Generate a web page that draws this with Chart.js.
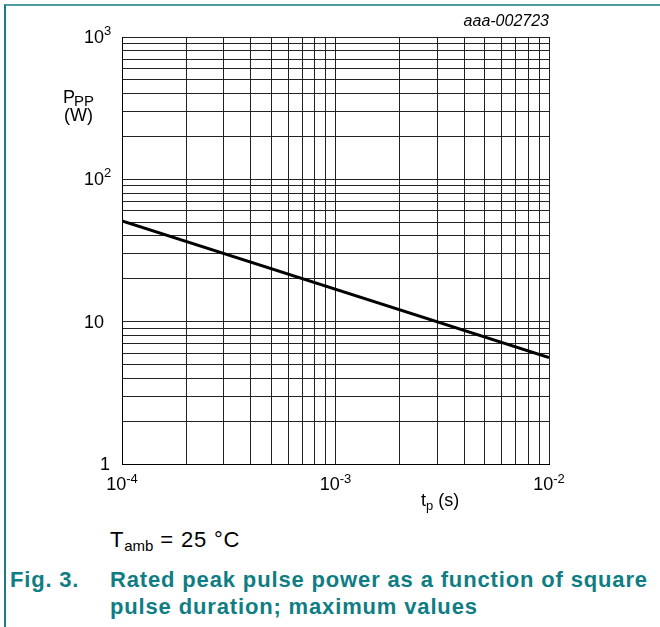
<!DOCTYPE html>
<html>
<head>
<meta charset="utf-8">
<script src="https://cdn.jsdelivr.net/npm/chart.js@4.4.1/dist/chart.umd.min.js"></script>
<style>
  body { margin: 0; background: #fff; font-family: "Liberation Sans", Arial, sans-serif; }
  #wrap { position: relative; width: 660px; height: 627px; overflow: hidden; }
  #frame { position: absolute; left: 4px; top: 4px; width: 670px; height: 640px;
           border-top: 2px solid #4a9ea3; border-left: 2px solid #1d7a80; }
  #chart { position: absolute; left: 0; top: 0; }
  #cond { position: absolute; left: 110px; top: 527px; font-size: 22px; letter-spacing: 0.8px; color: #000; }
  #cond sub { font-size: 15px; vertical-align: -4px; letter-spacing: 0; }
  #fig { position: absolute; left: 10px; top: 566px; font-size: 22px; font-weight: bold;
         color: #0f7d84; line-height: 27px; letter-spacing: 0.85px; }
  #fig .n { position: absolute; left: 0; top: 0; letter-spacing: 0.8px; }
  #fig .t { margin-left: 100px; width: 560px; white-space: nowrap; }
</style>
</head>
<body>
<div id="wrap">
  <div id="frame"></div>
  <canvas id="chart" width="660" height="520"></canvas>
  <div id="cond">T<sub>amb</sub> = 25 °C</div>
  <div id="fig"><span class="n">Fig. 3.</span><div class="t">Rated peak pulse power as a function of square<br>pulse duration; maximum values</div></div>
</div>
<script>
// pulse duration (s) and rated peak pulse power (W)
const tp = [1e-4, 1e-2];
const ppp = [51, 5.6];

const xDecades = [1e-4, 1e-3, 1e-2];
const yDecades = [1, 10, 100, 1000];
const xTickLabels = [['10', '-4'], ['10', '-3'], ['10', '-2']];
const yTickLabels = [['1', ''], ['10', ''], ['10', '2'], ['10', '3']];
const steps = [1, 2, 3, 4, 5, 6, 7, 8, 9];

function gridTicks(decades) {
    const out = [];
    decades.forEach((d, i) => {
        if (i === decades.length - 1) { out.push(d); return; }
        steps.forEach(s => out.push(+(d * s).toPrecision(3)));
    });
    return out.map(v => ({ value: v }));
}

const labelFont = '18px "Liberation Sans", Arial, sans-serif';
const supFont = '13px "Liberation Sans", Arial, sans-serif';

const textPlugin = {
    id: 'texts',
    afterDraw(chart) {
        const ctx = chart.ctx;
        const xs = chart.scales.x, ys = chart.scales.y;
        ctx.save();
        ctx.fillStyle = '#000';
        ctx.textBaseline = 'middle';

        // y tick labels
        yDecades.forEach((v, i) => {
            const [base, exp] = yTickLabels[i];
            const y = ys.getPixelForValue(v);
            ctx.font = labelFont;
            ctx.textAlign = 'right';
            const right = base === '1' ? 110 : 104;
            ctx.fillText(base, right, y + 1);
            if (exp) {
                ctx.font = supFont;
                ctx.textAlign = 'left';
                ctx.fillText(exp, right, y - 6);
            }
        });

        // x tick labels
        xDecades.forEach((v, i) => {
            const [base, exp] = xTickLabels[i];
            const x = xs.getPixelForValue(v);
            ctx.font = labelFont;
            const wb = ctx.measureText(base).width;
            ctx.font = supFont;
            const we = ctx.measureText(exp).width;
            const start = x - (wb + we) / 2;
            ctx.textAlign = 'left';
            ctx.font = labelFont;
            ctx.fillText(base, start, 485);
            ctx.font = supFont;
            ctx.fillText(exp, start + wb, 479);
        });

        // axis titles
        ctx.textAlign = 'left';
        ctx.font = labelFont;
        ctx.fillText('P', 63, 98);
        ctx.font = '15px "Liberation Sans", Arial, sans-serif';
        ctx.fillText('PP', 74, 102);
        ctx.font = labelFont;
        ctx.fillText('(W)', 64, 116);

        ctx.fillText('t', 421, 501);
        const wt = ctx.measureText('t').width;
        ctx.font = '13px "Liberation Sans", Arial, sans-serif';
        ctx.fillText('p', 421 + wt, 506);
        const wp = ctx.measureText('p').width;
        ctx.font = labelFont;
        ctx.fillText(' (s)', 421 + wt + wp, 501);

        // figure id
        ctx.font = 'italic 16px "Liberation Sans", Arial, sans-serif';
        ctx.textAlign = 'right';
        ctx.fillText('aaa-002723', xs.right, 22);
        ctx.restore();
    }
};

new Chart(document.getElementById('chart'), {
    type: 'scatter',
    data: {
        datasets: [{
            data: tp.map((t, i) => ({ x: t, y: ppp[i] })),
            showLine: true,
            borderColor: '#000',
            borderWidth: 3,
            pointRadius: 0
        }]
    },
    options: {
        responsive: false,
        animation: false,
        layout: { padding: { left: 122, right: 111, top: 37, bottom: 56 } },
        plugins: { legend: { display: false }, tooltip: { enabled: false } },
        scales: {
            x: {
                type: 'logarithmic',
                min: 1e-4,
                max: 1e-2,
                afterBuildTicks: s => { s.ticks = gridTicks(xDecades); },
                ticks: { display: false, autoSkip: false },
                grid: { color: '#222', lineWidth: 1, drawTicks: false },
                border: { color: '#000', width: 1 }
            },
            y: {
                type: 'logarithmic',
                min: 1,
                max: 1000,
                afterBuildTicks: s => { s.ticks = gridTicks(yDecades); },
                ticks: { display: false, autoSkip: false },
                grid: { color: '#222', lineWidth: 1, drawTicks: false },
                border: { color: '#000', width: 1 }
            }
        }
    },
    plugins: [textPlugin]
});
</script>
</body>
</html>
